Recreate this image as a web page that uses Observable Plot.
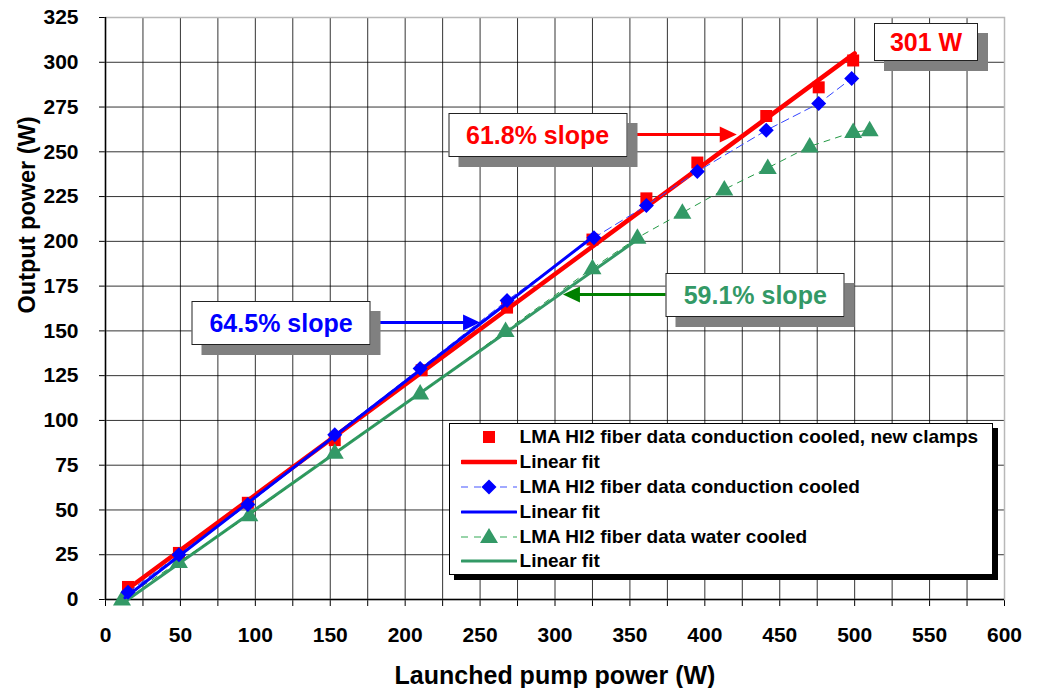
<!DOCTYPE html>
<html>
<head>
<meta charset="utf-8">
<script src="https://cdn.jsdelivr.net/npm/d3@7"></script>
<script src="https://cdn.jsdelivr.net/npm/@observablehq/plot@0.6"></script>
<style>
  body { margin: 0; background: #fff; }
  #wrap { position: relative; width: 1037px; height: 688px; font-family: "Liberation Sans", Arial, sans-serif; font-weight: bold; }
  .note { position: absolute; transform: translate(-50%, -50%); background: #fff; border: 1px solid #222;
          box-shadow: 10px 10px 0 #808080; display: flex; align-items: center; justify-content: center;
          box-sizing: border-box; font-size: 25px; white-space: nowrap; }
  .legend { position: absolute; background: #fff; border: 1px solid #000; box-shadow: 5px 5px 0 #000;
            box-sizing: border-box; padding-top: 1px; }
  .row { display: flex; align-items: center; height: 24.8px; }
  .row svg { margin-left: 11px; margin-right: 3px; flex: none; }
  .row span { font-size: 19px; color: #000; white-space: nowrap; }
</style>
</head>
<body>
<div id="wrap"></div>
<script>
// ---- data ----
const xTicks = [0, 50, 100, 150, 200, 250, 300, 350, 400, 450, 500, 550, 600];
const yTicks = [0, 25, 50, 75, 100, 125, 150, 175, 200, 225, 250, 275, 300, 325];

// LMA HI2 fiber data conduction cooled, new clamps
const redX = [15, 49, 95, 153, 211, 268, 325, 361, 395, 441, 476, 499];
const redY = [7, 26, 54, 89, 128, 163, 201, 224, 244, 270, 286, 301];
// LMA HI2 fiber data conduction cooled
const blueX = [15, 49, 95, 153, 210, 268, 326, 361, 395, 441, 476, 498];
const blueY = [4, 25, 53, 92, 129, 167, 202, 220, 239, 262, 277, 291];
// LMA HI2 fiber data water cooled
const greenX = [11, 49, 96, 153, 210, 267, 325, 355, 385, 413, 442, 470, 499, 510];
const greenY = [0, 21, 47, 82, 115, 150, 185, 202, 216, 229, 241, 253, 261, 262];

// Linear fits (end points)
const redFitX = [15, 500],  redFitY = [6, 305];
const blueFitX = [13, 326], blueFitY = [1, 203];
const greenFitX = [15, 355], greenFitY = [0, 201];

// Annotations (box centres and arrows in data units)
const noteTexts  = ["64.5% slope", "61.8% slope", "59.1% slope", "301 W"];
const noteColors = ["#0000ff", "#ff0000", "#339966", "#ff0000"];
const noteX = [117.5, 288.7, 434, 548];
const noteY = [154, 259.1, 169.5, 311];
const arrowFrom = [180, 351.3, 375.3];
const arrowTo   = [250, 421.3, 305.3];
const arrowY    = [154.7, 259.7, 170.3];
const arrowColors = ["#0000ff", "#ff0000", "#008000"];

const legendLabels = [
  "LMA HI2 fiber data conduction cooled, new clamps",
  "Linear fit",
  "LMA HI2 fiber data conduction cooled",
  "Linear fit",
  "LMA HI2 fiber data water cooled",
  "Linear fit"
];

// ---- helpers ----
const zip = (xs, ys) => xs.map((x, i) => ({x, y: ys[i]}));
const red = zip(redX, redY), blue = zip(blueX, blueY), green = zip(greenX, greenY);
const redFit = zip(redFitX, redFitY), blueFit = zip(blueFitX, blueFitY), greenFit = zip(greenFitX, greenFitY);

const squareSym = {draw(c) { const s = 6; c.moveTo(-s, -s); c.lineTo(s, -s); c.lineTo(s, s); c.lineTo(-s, s); c.closePath(); }};
const diamondSym = {draw(c) { const s = 7.5; c.moveTo(0, -s); c.lineTo(s, 0); c.lineTo(0, s); c.lineTo(-s, 0); c.closePath(); }};
const triSym = {draw(c) { c.moveTo(0, -9.5); c.lineTo(9, 6); c.lineTo(-9, 6); c.closePath(); }};
const headRight = {draw(c) { c.moveTo(0, 0); c.lineTo(-17, -8); c.lineTo(-17, 8); c.closePath(); }};
const headLeft = {draw(c) { c.moveTo(0, 0); c.lineTo(17, -8); c.lineTo(17, 8); c.closePath(); }};

const xMinor = d3.range(0, 601, 25);
const xGrid = d3.range(25, 600, 25);
const yGrid = d3.range(25, 325, 25);

const arrowMarks = [];
arrowFrom.forEach((from, i) => {
  const to = arrowTo[i], right = to > from;
  const d = [{x1: Math.min(from, to), x2: Math.max(from, to), y: arrowY[i], tip: to}];
  arrowMarks.push(Plot.ruleY(d, {x1: "x1", x2: "x2", y: "y", stroke: arrowColors[i], strokeWidth: 3,
    insetRight: right ? 10 : 0, insetLeft: right ? 0 : 10}));
  arrowMarks.push(Plot.dot(d, {x: "tip", y: "y", symbol: right ? headRight : headLeft, fill: arrowColors[i]}));
});

const chart = Plot.plot({
  width: 1037, height: 688,
  marginLeft: 105, marginRight: 33, marginTop: 17, marginBottom: 89,
  style: {fontFamily: "'Liberation Sans', Arial, sans-serif", fontSize: "21px", fontWeight: "bold", color: "#000", background: "#fff", overflow: "visible"},
  x: {domain: [0, 600], ticks: xMinor, tickFormat: d => xTicks.includes(d) ? d : "", tickSize: 7, tickPadding: 21, label: null},
  y: {domain: [0, 325], ticks: yTicks, tickSize: 6, tickPadding: 21, label: null},
  marks: [
    Plot.ruleX(xGrid, {stroke: "#000", strokeOpacity: 0.8, strokeWidth: 1}),
    Plot.ruleY(yGrid, {stroke: "#000", strokeOpacity: 0.8, strokeWidth: 1}),
    Plot.frame({stroke: "#b8b8b8", strokeWidth: 1.5}),
    Plot.ruleX([0], {stroke: "#000", strokeWidth: 1.5}),
    Plot.ruleY([0], {stroke: "#000", strokeWidth: 1.5}),
    // red
    Plot.dot(red, {x: "x", y: "y", symbol: squareSym, fill: "#ff0000"}),
    Plot.line(redFit, {x: "x", y: "y", stroke: "#ff0000", strokeWidth: 4.5}),
    // green
    Plot.line(greenFit, {x: "x", y: "y", stroke: "#339966", strokeWidth: 3}),
    Plot.line(green, {x: "x", y: "y", stroke: "#229944", strokeWidth: 1, strokeDasharray: "6,6"}),
    Plot.dot(green, {x: "x", y: "y", symbol: triSym, fill: "#339966"}),
    // blue
    Plot.line(blue, {x: "x", y: "y", stroke: "#3344ff", strokeWidth: 1, strokeDasharray: "8,5"}),
    Plot.line(blueFit, {x: "x", y: "y", stroke: "#0000ff", strokeWidth: 3}),
    Plot.dot(blue, {x: "x", y: "y", symbol: diamondSym, fill: "#0000ff"}),
    // arrows
    ...arrowMarks,
    // axis titles
    Plot.text(["Launched pump power (W)"], {frameAnchor: "bottom", dy: 76, fontSize: 25, fontWeight: "bold", lineAnchor: "middle"}),
    Plot.text(["Output power (W)"], {frameAnchor: "left", dx: -78, dy: 5, rotate: -90, fontSize: 23.5, fontWeight: "bold", lineAnchor: "middle"})
  ]
});

const wrap = document.getElementById("wrap");
wrap.appendChild(chart);
const xs = chart.scale("x"), ys = chart.scale("y");

// annotation boxes
noteTexts.forEach((t, i) => {
  const d = document.createElement("div");
  d.className = "note";
  d.textContent = t;
  d.style.color = noteColors[i];
  const small = t === "301 W";
  d.style.width = (small ? 104 : 179) + "px";
  d.style.height = (small ? 38 : 44) + "px";
  d.style.left = xs.apply(noteX[i]) + "px";
  d.style.top = ys.apply(noteY[i]) + "px";
  wrap.appendChild(d);
});

// legend
const swatches = [
  `<rect x="22" y="4" width="12" height="12" fill="#ff0000"/>`,
  `<line x1="1" x2="55" y1="10" y2="10" stroke="#ff0000" stroke-width="4.5" stroke-linecap="round"/>`,
  `<line x1="0" x2="56" y1="10" y2="10" stroke="#4455ff" stroke-width="1.2" stroke-dasharray="7,6"/><path d="M28,2.5L35.5,10L28,17.5L20.5,10Z" fill="#0000ff"/>`,
  `<line x1="1" x2="55" y1="10" y2="10" stroke="#0000ff" stroke-width="3" stroke-linecap="round"/>`,
  `<line x1="0" x2="56" y1="10" y2="10" stroke="#33aa55" stroke-width="1.2" stroke-dasharray="7,6"/><path d="M28,1L37,16L19,16Z" fill="#339966"/>`,
  `<line x1="1" x2="55" y1="10" y2="10" stroke="#339966" stroke-width="3" stroke-linecap="round"/>`
];
const lg = document.createElement("div");
lg.className = "legend";
const lx0 = xs.apply(229.3), ly0 = ys.apply(98.3);
lg.style.left = lx0 + "px";
lg.style.top = ly0 + "px";
lg.style.width = (xs.apply(592.7) - lx0) + "px";
lg.style.height = (ys.apply(13.4) - ly0) + "px";
legendLabels.forEach((label, i) => {
  const r = document.createElement("div");
  r.className = "row";
  r.innerHTML = `<svg width="56" height="20">${swatches[i]}</svg><span></span>`;
  r.querySelector("span").textContent = label;
  lg.appendChild(r);
});
wrap.appendChild(lg);
</script>
</body>
</html>
